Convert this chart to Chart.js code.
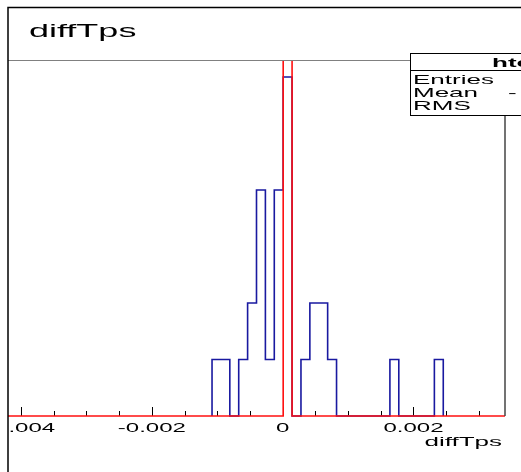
<!DOCTYPE html>
<html>
<head>
<meta charset="UTF-8">
<title>diffTps</title>
<script src="https://cdn.jsdelivr.net/npm/chart.js"></script>
<style>
  html, body { margin: 0; padding: 0; background: #fff; }
  #wrap { width: 521px; height: 472px; }
</style>
</head>
<body>
<div id="wrap"><canvas id="histo"></canvas></div>
<script>
// histogram bins
const firstEdge = -0.00108;
const binWidth = 0.000136;
const blueCounts = [1, 1, 0, 1, 2, 4, 1, 4, 6, 0, 1, 2, 2, 1, 0, 0, 0, 0, 0, 0, 1, 0, 0, 0, 0, 1];
// red reference histogram: one bin far above the frame
const redCounts  = [0, 0, 0, 0, 0, 0, 0, 0, 40, 0, 0, 0, 0, 0, 0, 0, 0, 0, 0, 0, 0, 0, 0, 0, 0, 0];

const xMin = -0.0042, xMax = 0.0034;
const yMax = 6.3;

const minorTicks = [-0.004, -0.0035, -0.003, -0.0025, -0.002, -0.0015, -0.001, -0.0005,
                    0, 0.0005, 0.001, 0.0015, 0.002, 0.0025, 0.003];
const majorTicks = [-0.004, -0.002, 0, 0.002];
const tickLabels = ['-0.004', '-0.002', '0', '0.002'];

const histTitle = 'diffTps';
const axisTitle = 'diffTps';
const statName = 'hte';
const statLabels = ['Entries', 'Mean', 'RMS'];

// step points: left edge of every bin, closed at the last right edge
function stepPoints(counts, withEnds) {
  const pts = [];
  if (withEnds) pts.push({x: xMin, y: 0});
  pts.push({x: firstEdge, y: 0});
  counts.forEach((c, i) => pts.push({x: firstEdge + i * binWidth, y: c}));
  pts.push({x: firstEdge + counts.length * binWidth, y: 0});
  if (withEnds) pts.push({x: xMax, y: 0});
  return pts;
}

const FONT = '"Liberation Sans", Arial, sans-serif';
const SX = 2.0; // the picture is stretched sideways

function wideText(ctx, txt, x, y, size, align, bold) {
  ctx.save();
  ctx.font = (bold ? 'bold ' : '') + size + 'px ' + FONT;
  ctx.fillStyle = '#000';
  ctx.textBaseline = 'alphabetic';
  const w = ctx.measureText(txt).width * SX;
  let left = x;
  if (align === 'center') left = x - w / 2;
  if (align === 'right') left = x - w;
  ctx.translate(left, y);
  ctx.scale(SX, 1);
  ctx.textAlign = 'left';
  ctx.fillText(txt, 0, 0);
  ctx.restore();
}

const rootLook = {
  id: 'rootLook',
  beforeDatasetsDraw(chart) {
    const ctx = chart.ctx;
    const xs = chart.scales.x;
    const a = chart.chartArea;
    ctx.save();
    ctx.strokeStyle = '#000';
    ctx.lineWidth = 1;
    minorTicks.forEach(v => {
      const px = Math.round(xs.getPixelForValue(v)) + 0.5;
      const len = majorTicks.includes(v) ? 9 : 5;
      ctx.beginPath();
      ctx.moveTo(px, a.bottom);
      ctx.lineTo(px, a.bottom - len);
      ctx.stroke();
    });
    ctx.restore();
  },
  afterDraw(chart) {
    const ctx = chart.ctx;
    const xs = chart.scales.x;
    const a = chart.chartArea;
    ctx.save();
    // frame top (grey) and right
    ctx.strokeStyle = '#808080';
    ctx.lineWidth = 1;
    ctx.beginPath();
    ctx.moveTo(a.left, 60.5);
    ctx.lineTo(410, 60.5);
    ctx.stroke();
    ctx.strokeStyle = '#444';
    ctx.lineWidth = 1.5;
    ctx.beginPath();
    ctx.moveTo(a.right, 116);
    ctx.lineTo(a.right, a.bottom);
    ctx.stroke();

    // tick labels, clipped at the pad edge
    ctx.save();
    ctx.beginPath();
    ctx.rect(9, 0, 521, 472);
    ctx.clip();
    majorTicks.forEach((v, i) => {
      wideText(ctx, tickLabels[i], xs.getPixelForValue(v), 432, 12, 'center');
    });
    ctx.restore();
    wideText(ctx, axisTitle, 502, 446, 13, 'right');

    // title
    wideText(ctx, histTitle, 29, 37, 18, 'left');

    // stats box
    ctx.fillStyle = '#fff';
    ctx.fillRect(410.5, 53.5, 120, 62);
    ctx.strokeStyle = '#000';
    ctx.lineWidth = 1;
    ctx.strokeRect(410.5, 53.5, 120, 62);
    ctx.beginPath();
    ctx.moveTo(410.5, 70.5);
    ctx.lineTo(521, 70.5);
    ctx.stroke();
    wideText(ctx, statName, 492, 67, 13, 'left', true);
    statLabels.forEach((s, i) => wideText(ctx, s, 413, 84 + i * 13, 13, 'left'));
    wideText(ctx, '-', 508, 97, 13, 'left');

    // pad border
    ctx.strokeStyle = '#000';
    ctx.lineWidth = 1.5;
    ctx.beginPath();
    ctx.moveTo(8, 472);
    ctx.lineTo(8, 7.5);
    ctx.lineTo(521, 7.5);
    ctx.stroke();
    ctx.restore();
  }
};

new Chart(document.getElementById('histo'), {
  type: 'line',
  data: {
    datasets: [
      {
        label: 'red',
        data: stepPoints(redCounts, true),
        borderColor: '#ff1010',
        borderWidth: 1.6,
        stepped: 'before',
        pointRadius: 0,
        fill: false,
        order: 0,
        clip: {left: 0, top: 0, right: 0, bottom: 3}
      },
      {
        label: 'hte',
        data: stepPoints(blueCounts, false),
        borderColor: 'rgb(25, 25, 160)',
        borderWidth: 1.6,
        stepped: 'before',
        pointRadius: 0,
        fill: false,
        order: 1,
        clip: {left: 0, top: 0, right: 0, bottom: 3}
      }
    ]
  },
  options: {
    responsive: true,
    maintainAspectRatio: false,
    animation: false,
    parsing: false,
    layout: {
      autoPadding: false,
      padding: {left: 8, right: 16, top: 60, bottom: 56}
    },
    plugins: {
      legend: {display: false},
      tooltip: {enabled: false},
      title: {display: false}
    },
    scales: {
      x: {type: 'linear', min: xMin, max: xMax, display: false},
      y: {type: 'linear', min: 0, max: yMax, display: false}
    }
  },
  plugins: [rootLook]
});
</script>
</body>
</html>
